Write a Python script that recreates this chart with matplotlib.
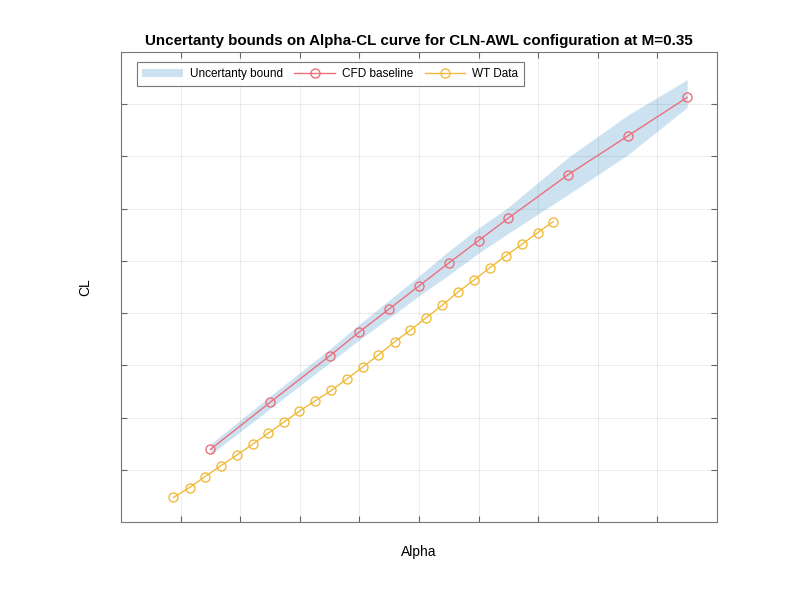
import matplotlib
matplotlib.use("Agg")
import matplotlib.pyplot as plt

plt.rcParams["font.family"] = ["Liberation Sans", "DejaVu Sans"]

# CFD baseline (alpha, CL) with uncertainty band
cfd_alpha = [-1.5, -0.5, 0.5, 1.0, 1.5, 2.0, 2.5, 3.0, 3.5, 4.5, 5.5, 6.5]
cfd_cl = [-0.061, 0.029, 0.118, 0.164, 0.208, 0.252, 0.296, 0.339, 0.382,
          0.465, 0.539, 0.613]
band_upper = [-0.051, 0.041, 0.131, 0.179, 0.225, 0.271, 0.319, 0.363, 0.403,
              0.498, 0.579, 0.647]
band_lower = [-0.071, 0.017, 0.105, 0.149, 0.191, 0.233, 0.273, 0.315, 0.353,
              0.427, 0.503, 0.594]

# wind tunnel data
wt_alpha = [-2.12, -1.85, -1.59, -1.32, -1.06, -0.79, -0.53, -0.27, -0.01,
            0.26, 0.53, 0.79, 1.06, 1.32, 1.59, 1.85, 2.12, 2.39, 2.66, 2.93,
            3.19, 3.46, 3.73, 3.99, 4.25]
wt_cl = [-0.153, -0.134, -0.113, -0.092, -0.072, -0.051, -0.030, -0.009,
         0.012, 0.032, 0.052, 0.074, 0.097, 0.120, 0.145, 0.167, 0.191, 0.215,
         0.241, 0.264, 0.287, 0.310, 0.332, 0.354, 0.375]

x_ticks = [-2, -1, 0, 1, 2, 3, 4, 5, 6]
y_ticks = [-0.1, 0.0, 0.1, 0.2, 0.3, 0.4, 0.5, 0.6]

fig = plt.figure(figsize=(7.92, 6.02), dpi=100)
ax = fig.add_axes([0.1528, 0.1329, 0.7525, 0.7807])

ax.fill_between(cfd_alpha, band_lower, band_upper, color="#0072BD", alpha=0.2,
                linewidth=0, label="Uncertanty bound")
ax.plot(cfd_alpha, cfd_cl, color="#ec6f7c", linewidth=1.0, marker="o",
        markersize=6.5, markerfacecolor="none", markeredgewidth=1.0,
        label="CFD baseline")
ax.plot(wt_alpha, wt_cl, color="#f0bb3c", linewidth=1.0, marker="o",
        markersize=6.5, markerfacecolor="none", markeredgewidth=1.0,
        label="WT Data")

ax.set_xlim(-3, 7)
ax.set_ylim(-0.2, 0.7)
ax.set_xticks(x_ticks)
ax.set_yticks(y_ticks)
ax.set_xticklabels([])
ax.set_yticklabels([])
ax.tick_params(direction="in", length=4, width=0.8, color="#666666",
               top=True, right=True)
ax.grid(True, color="#000000", alpha=0.07, linewidth=0.8)
for s in ax.spines.values():
    s.set_color("#777777")
    s.set_linewidth(0.8)

ax.set_title("Uncertanty bounds on Alpha-CL curve for CLN-AWL configuration at M=0.35",
             fontsize=10.9, fontweight="bold", pad=5)
ax.set_xlabel("Alpha", fontsize=10, labelpad=13)
ax.set_ylabel("CL", fontsize=10, labelpad=17)

leg = ax.legend(loc="upper left", bbox_to_anchor=(0.026, 0.979), ncol=3,
                fontsize=8.5, frameon=True, fancybox=False,
                edgecolor="#555555", handlelength=3.4, columnspacing=1.0,
                handletextpad=0.6, borderaxespad=0.0, borderpad=0.5)
leg.get_frame().set_linewidth(0.8)

fig.savefig("out.png", dpi=100)
